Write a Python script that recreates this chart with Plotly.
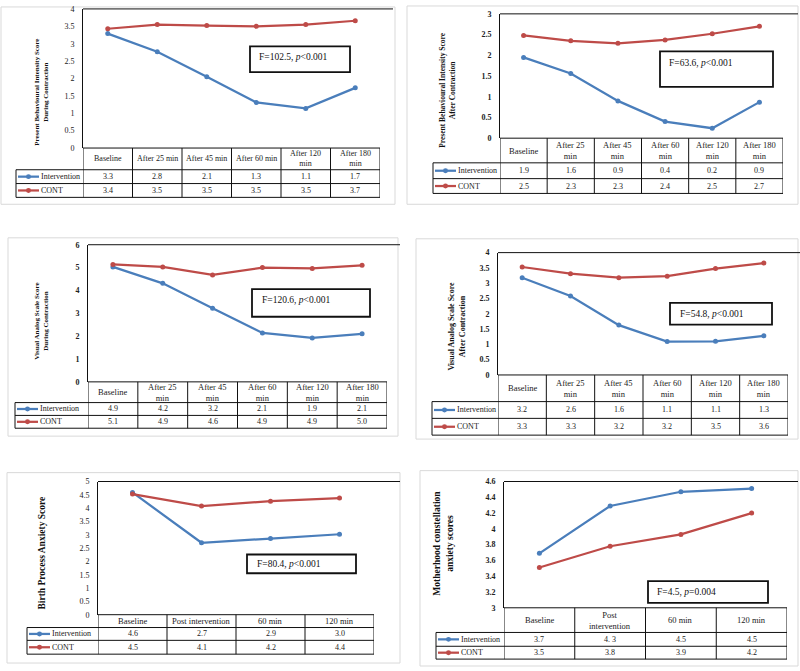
import plotly.graph_objects as go

W, H = 800, 671
BLUE = "#4A7EBB"
RED = "#BE4B48"
SERIF = "Liberation Serif, Times New Roman, serif"

# ---------------- data ----------------
p1_labels = ["Baseline", "After 25 min", "After 45 min", "After 60 min", "After 120<br>min", "After 180<br>min"]
p1_int = [3.29, 2.77, 2.05, 1.31, 1.14, 1.73]
p1_cont = [3.43, 3.55, 3.52, 3.50, 3.55, 3.66]
p1_int_tab = ["3.3", "2.8", "2.1", "1.3", "1.1", "1.7"]
p1_cont_tab = ["3.4", "3.5", "3.5", "3.5", "3.5", "3.7"]

p2_labels = ["Baseline", "After 25<br>min", "After 45<br>min", "After 60<br>min", "After 120<br>min", "After 180<br>min"]
p2_int = [1.95, 1.56, 0.90, 0.40, 0.24, 0.87]
p2_cont = [2.48, 2.35, 2.29, 2.37, 2.52, 2.70]
p2_int_tab = ["1.9", "1.6", "0.9", "0.4", "0.2", "0.9"]
p2_cont_tab = ["2.5", "2.3", "2.3", "2.4", "2.5", "2.7"]

p3_labels = ["Baseline", "After 25<br>min", "After 45<br>min", "After 60<br>min", "After 120<br>min", "After 180<br>min"]
p3_int = [5.03, 4.31, 3.22, 2.14, 1.92, 2.10]
p3_cont = [5.14, 5.03, 4.68, 5.00, 4.96, 5.10]
p3_int_tab = ["4.9", "4.2", "3.2", "2.1", "1.9", "2.1"]
p3_cont_tab = ["5.1", "4.9", "4.6", "4.9", "4.9", "5.0"]

p4_labels = ["Baseline", "After 25<br>min", "After 45<br>min", "After 60<br>min", "After 120<br>min", "After 180<br>min"]
p4_int = [3.18, 2.58, 1.63, 1.09, 1.10, 1.28]
p4_cont = [3.53, 3.31, 3.18, 3.23, 3.48, 3.66]
p4_int_tab = ["3.2", "2.6", "1.6", "1.1", "1.1", "1.3"]
p4_cont_tab = ["3.3", "3.3", "3.2", "3.2", "3.5", "3.6"]

p5_labels = ["Baseline", "Post intervention", "60 min", "120 min"]
p5_int = [4.59, 2.70, 2.86, 3.02]
p5_cont = [4.53, 4.08, 4.26, 4.38]
p5_int_tab = ["4.6", "2.7", "2.9", "3.0"]
p5_cont_tab = ["4.5", "4.1", "4.2", "4.4"]

p6_labels = ["Baseline", "Post<br>intervention", "60 min", "120 min"]
p6_int = [3.69, 4.29, 4.47, 4.51]
p6_cont = [3.51, 3.78, 3.93, 4.20]
p6_int_tab = ["3.7", "4. 3", "4.5", "4.5"]
p6_cont_tab = ["3.5", "3.8", "3.9", "4.2"]

titles = [
    "Present Behavioural Intensity Score<br>During Contraction",
    "Present Behavioural Intensity Score<br>After Contraction",
    "Visual Analog Scale Score<br>During Contraction",
    "Visual Analog Scale Score<br>After Contraction",
    "Birth Process Anxiety Score",
    "Motherhood constellation<br>anxiety scores",
]
stats = [
    "F=102.5, <i>p</i>&lt;0.001",
    "F=63.6, <i>p</i>&lt;0.001",
    "F=120.6, <i>p</i>&lt;0.001",
    "F=54.8, <i>p</i>&lt;0.001",
    "F=80.4, <i>p</i>&lt;0.001",
    "F=4.5, <i>p</i>=0.004",
]
series_names = ["Intervention", "CONT"]

panels_data = [
    (p1_labels, p1_int, p1_cont, p1_int_tab, p1_cont_tab),
    (p2_labels, p2_int, p2_cont, p2_int_tab, p2_cont_tab),
    (p3_labels, p3_int, p3_cont, p3_int_tab, p3_cont_tab),
    (p4_labels, p4_int, p4_cont, p4_int_tab, p4_cont_tab),
    (p5_labels, p5_int, p5_cont, p5_int_tab, p5_cont_tab),
    (p6_labels, p6_int, p6_cont, p6_int_tab, p6_cont_tab),
]

# ---------------- geometry (pixels) ----------------
geom = [
    dict(frame=(1, 3, 395, 203), left=83, right=380, top=5, bottom=146, rows=(168, 182, 196), leg=16,
         yr=(0, 4), dt=0.5, bold=False, tfs=7, tx=42, ty=90, box=(250, 43, 350, 69), st=(257, 54), line_end=393),
    dict(frame=(407, 2, 798, 203), left=500, right=783, top=10, bottom=136, rows=(161, 177, 192), leg=433,
         yr=(0, 3), dt=0.5, bold=True, tfs=7.5, tx=448, ty=87, box=(660, 48, 773, 84), st=(667, 60), line_end=798),
    dict(frame=(8, 237, 398, 438), left=88, right=387, top=244, bottom=383, rows=(404, 417, 430), leg=15,
         yr=(0, 6), dt=1, bold=True, tfs=7, tx=42, ty=322, box=(252, 289, 370, 317), st=(260, 300), line_end=400),
    dict(frame=(416, 238, 798, 441), left=498, right=788, top=252, bottom=376, rows=(403, 420, 437), leg=432,
         yr=(0, 4), dt=0.5, bold=True, tfs=8, tx=457, ty=327, box=(670, 303, 772, 325), st=(678, 314), line_end=800),
    dict(frame=(7, 475, 400, 668), left=98, right=374, top=484, bottom=619, rows=(632, 645, 659), leg=27,
         yr=(0, 5), dt=0.5, bold=False, tfs=9.5, tx=42, ty=557, box=(247, 558, 356, 577), st=(255, 568), line_end=400),
    dict(frame=(420, 473, 798, 671), left=504, right=787, top=484, bottom=612, rows=(637, 651, 664), leg=436,
         yr=(3, 4.6), dt=0.2, bold=True, tfs=9.5, tx=443, ty=547, box=(648, 585, 768, 607), st=(655, 596), line_end=798),
]


def fx(x):
    return x / W


def fy(y):
    return 1 - y / H


fig = go.Figure()
shapes = []
annotations = []
layout = {}
GRID = dict(color="#111111", width=1)

for i, (g, (labels, v_int, v_cont, t_int, t_cont)) in enumerate(zip(geom, panels_data)):
    sfx = "" if i == 0 else str(i + 1)
    xa, ya = "x" + sfx, "y" + sfx
    n = len(labels)
    hfs = 8 if i == 0 else 8.5

    layout["xaxis" + sfx] = dict(domain=[fx(g["left"]), fx(g["right"])], range=[-0.5, n - 0.5],
                                 visible=False, anchor=ya, fixedrange=True)
    layout["yaxis" + sfx] = dict(domain=[fy(g["bottom"]), fy(g["top"])], range=list(g["yr"]), dtick=g["dt"],
                                 tick0=g["yr"][0], showline=True, linecolor="#111111", linewidth=1,
                                 showgrid=False, zeroline=False, ticks="", anchor=xa,
                                 ticklabelstandoff=6, fixedrange=True,
                                 tickfont=dict(family=SERIF, size=8, color="#222222",
                                               weight="bold" if g["bold"] else "normal"))

    for vals, col in ((v_int, BLUE), (v_cont, RED)):
        fig.add_trace(go.Scatter(x=labels, y=vals, xaxis=xa, yaxis=ya, mode="lines+markers",
                                 line=dict(color=col, width=2.25), marker=dict(color=col, size=5),
                                 showlegend=False, cliponaxis=False, hoverinfo="skip"))

    # outer frame
    x0, y0, x1, y1 = g["frame"]
    shapes.append(dict(type="rect", xref="paper", yref="paper", x0=fx(x0), x1=fx(x1), y0=fy(y0), y1=fy(y1),
                       line=dict(color="#d9d9d9", width=1), layer="below"))
    # top border of plot area
    shapes.append(dict(type="line", xref="paper", yref="paper", x0=fx(g["left"]), x1=fx(g["line_end"]),
                       y0=fy(g["top"]), y1=fy(g["top"]), line=GRID))

    # table lines
    r_head, r1, r2 = g["rows"]
    shapes.append(dict(type="line", xref="paper", yref="paper", x0=fx(g["left"]), x1=fx(g["right"]),
                       y0=fy(g["bottom"]), y1=fy(g["bottom"]), line=GRID))
    for yy in (r_head, r1, r2):
        shapes.append(dict(type="line", xref="paper", yref="paper", x0=fx(g["leg"]), x1=fx(g["right"]),
                           y0=fy(yy), y1=fy(yy), line=GRID))
    for k in range(n + 1):
        shapes.append(dict(type="line", xref=xa, yref="paper", x0=k - 0.5, x1=k - 0.5,
                           y0=fy(g["bottom"]), y1=fy(r2), line=GRID))
    shapes.append(dict(type="line", xref="paper", yref="paper", x0=fx(g["leg"]), x1=fx(g["leg"]),
                       y0=fy(r_head), y1=fy(r2), line=GRID))

    # header labels
    for k, lab in enumerate(labels):
        annotations.append(dict(xref=xa, yref="paper", x=k, y=fy((g["bottom"] + r_head) / 2), text=lab,
                                showarrow=False, font=dict(family=SERIF, size=hfs, color="#222222"),
                                xanchor="center", yanchor="middle"))

    # data rows with legend keys
    row_mid = [(r_head + r1) / 2, (r1 + r2) / 2]
    for name, col, tab, ym in ((series_names[0], BLUE, t_int, row_mid[0]), (series_names[1], RED, t_cont, row_mid[1])):
        L = g["leg"]
        shapes.append(dict(type="line", xref="paper", yref="paper", x0=fx(L + 2), x1=fx(L + 23),
                           y0=fy(ym), y1=fy(ym), line=dict(color=col, width=2.25)))
        shapes.append(dict(type="circle", xref="paper", yref="paper", x0=fx(L + 10), x1=fx(L + 15),
                           y0=fy(ym - 2.5), y1=fy(ym + 2.5), fillcolor=col, line=dict(color=col, width=0)))
        annotations.append(dict(xref="paper", yref="paper", x=fx(L + 23), y=fy(ym), text=name, showarrow=False,
                                xanchor="left", yanchor="middle", font=dict(family=SERIF, size=8, color="#222222")))
        for k, t in enumerate(tab):
            annotations.append(dict(xref=xa, yref="paper", x=k, y=fy(ym), text=t, showarrow=False,
                                    xanchor="center", yanchor="middle",
                                    font=dict(family=SERIF, size=8, color="#222222")))

    # y-axis title
    annotations.append(dict(xref="paper", yref="paper", x=fx(g["tx"]), y=fy(g["ty"]), text=titles[i],
                            textangle=-90, showarrow=False, xanchor="center", yanchor="middle",
                            font=dict(family=SERIF, size=g["tfs"], color="#111111", weight="bold")))

    # statistics box
    bx0, by0, bx1, by1 = g["box"]
    shapes.append(dict(type="rect", xref="paper", yref="paper", x0=fx(bx0), x1=fx(bx1), y0=fy(by0), y1=fy(by1),
                       line=dict(color="#111111", width=1.8), fillcolor="white"))
    annotations.append(dict(xref="paper", yref="paper", x=fx(g["st"][0]), y=fy(g["st"][1]), text=stats[i],
                            showarrow=False, xanchor="left", yanchor="middle",
                            font=dict(family=SERIF, size=9.5, color="#111111")))

fig.update_layout(width=W, height=H, margin=dict(l=0, r=0, t=0, b=0), paper_bgcolor="white",
                  plot_bgcolor="white", shapes=shapes, annotations=annotations, showlegend=False, **layout)

fig.write_html("out.html", config={"displayModeBar": False}, post_script="document.body.style.margin='0';")
